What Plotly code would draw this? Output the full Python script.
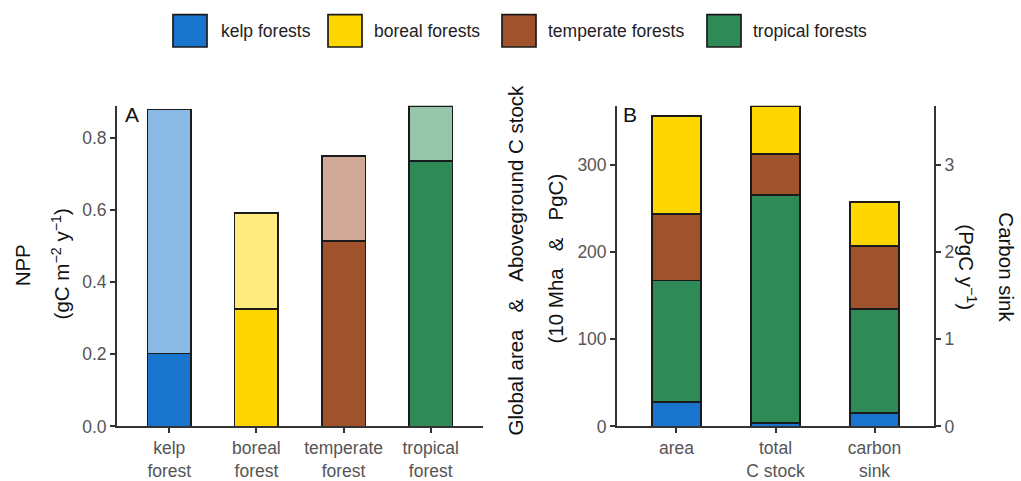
import plotly.graph_objects as go

# ---------------- data ----------------
npp_categories = ["kelp<br>forest", "boreal<br>forest", "temperate<br>forest", "tropical<br>forest"]
npp_lower = [0.202, 0.325, 0.515, 0.735]   # dark (lower) estimate
npp_upper = [0.879, 0.591, 0.750, 0.889]   # light (upper) estimate

b_categories = ["area", "total<br>C stock", "carbon<br>sink"]
forest_names = ["kelp forests", "boreal forests", "temperate forests", "tropical forests"]
# area (10 Mha) by forest type
area_kelp, area_tropical, area_temperate, area_boreal = 27.8, 139.8, 75.8, 112.6
# aboveground C stock (PgC)
stock_kelp, stock_tropical, stock_temperate, stock_boreal = 3.8, 261.4, 47.6, 54.7
# carbon sink (PgC / y)
sink_kelp, sink_tropical, sink_temperate, sink_boreal = 0.158, 1.19, 0.72, 0.506
sink_scale = 100  # secondary axis: 1 PgC/y == 100 on primary axis

npp_ticks = [0.0, 0.2, 0.4, 0.6, 0.8]
b_ticks = [0, 100, 200, 300]
sink_ticks = [0, 1, 2, 3]

# ---------------- styles ----------------
FONT = "Liberation Sans, Arial, sans-serif"
solid = {"kelp": "#1874CD", "boreal": "#FFD700", "temperate": "#A0522D", "tropical": "#2E8B57"}
light = {"kelp": "rgba(24,116,205,0.5)", "boreal": "rgba(255,215,0,0.5)",
         "temperate": "rgba(160,82,45,0.5)", "tropical": "rgba(46,139,87,0.5)"}
order_a = ["kelp", "boreal", "temperate", "tropical"]
OUTLINE = dict(color="#1a1a1a", width=1.7)
TICKCOL = "#555555"
W, H = 1021, 481

def px_x(p):
    return p / W

def px_y(p):
    return (H - p) / H

fig = go.Figure()

# Panel A: lower (dark) + remaining (light) stacked
fig.add_trace(go.Bar(
    x=npp_categories, y=npp_lower, width=0.5,
    marker=dict(color=[solid[k] for k in order_a], line=OUTLINE),
    xaxis="x", yaxis="y", showlegend=False, hoverinfo="skip"))
fig.add_trace(go.Bar(
    x=npp_categories, y=[u - l for u, l in zip(npp_upper, npp_lower)], width=0.5,
    marker=dict(color=[light[k] for k in order_a], line=OUTLINE),
    xaxis="x", yaxis="y", showlegend=False, hoverinfo="skip"))

# Panel B: stacked kelp, tropical, temperate, boreal
b_series = [
    ("kelp", [area_kelp, stock_kelp, sink_kelp * sink_scale]),
    ("tropical", [area_tropical, stock_tropical, sink_tropical * sink_scale]),
    ("temperate", [area_temperate, stock_temperate, sink_temperate * sink_scale]),
    ("boreal", [area_boreal, stock_boreal, sink_boreal * sink_scale]),
]
for key, vals in b_series:
    fig.add_trace(go.Bar(
        x=b_categories, y=vals, width=0.5,
        marker=dict(color=solid[key], line=OUTLINE),
        xaxis="x2", yaxis="y2", showlegend=False, hoverinfo="skip"))

# invisible trace for secondary (right) axis
fig.add_trace(go.Scatter(
    x=b_categories, y=[0, 0, 0], mode="markers", marker=dict(opacity=0),
    xaxis="x2", yaxis="y3", showlegend=False, hoverinfo="skip"))

y_dom = [px_y(435.5), px_y(108)]
axis_common = dict(showline=True, linecolor="#333333", linewidth=1.8,
                   ticks="outside", ticklen=5, tickwidth=1.5, tickcolor="#333333",
                   showgrid=False, zeroline=False,
                   tickfont=dict(family=FONT, size=17.5, color=TICKCOL))

fig.update_layout(
    width=W, height=H,
    margin=dict(l=0, r=0, t=0, b=0),
    paper_bgcolor="white", plot_bgcolor="white",
    barmode="stack",
    font=dict(family=FONT),
    xaxis=dict(domain=[px_x(117), px_x(483)], anchor="y", type="category",
               range=[-0.6, 3.6], **axis_common),
    yaxis=dict(domain=y_dom, anchor="x", range=[0, 0.889], tickvals=npp_ticks,
               ticktext=[f"{v:.1f}" for v in npp_ticks], **axis_common),
    xaxis2=dict(domain=[px_x(617), px_x(934)], anchor="y2", type="category",
                range=[-0.6, 2.6], **axis_common),
    yaxis2=dict(domain=y_dom, anchor="x2", range=[0, 368], tickvals=b_ticks, **axis_common),
    yaxis3=dict(overlaying="y2", anchor="x2", side="right", range=[0, 3.68],
                tickvals=sink_ticks, **axis_common),
)

# axis titles (separate lines to match spacing)
title_font = dict(family=FONT, size=20.5, color="#111111")
SP = "\u00a0\u00a0\u00a0"
ann = [
    dict(text="NPP", x=px_x(22), y=px_y(271), textangle=-90),
    dict(text="(gC m<sup>\u22122</sup> y<sup>\u22121</sup>)", x=px_x(61), y=px_y(270), textangle=-90),
    dict(text=f"Global area{SP}&{SP}Aboveground C stock", x=px_x(515), y=px_y(266), textangle=-90),
    dict(text=f"(10 Mha{SP}&{SP}PgC)", x=px_x(556), y=px_y(264), textangle=-90),
    dict(text="Carbon sink", x=px_x(1007), y=px_y(273), textangle=90),
    dict(text="(PgC y<sup>\u22121</sup>)", x=px_x(967), y=px_y(273), textangle=90),
]
for a in ann:
    fig.add_annotation(xref="paper", yref="paper", xanchor="center", yanchor="middle",
                       showarrow=False, font=title_font, **a)

# panel labels
for lab, xp in [("A", 132), ("B", 630)]:
    fig.add_annotation(text=lab, xref="paper", yref="paper", x=px_x(xp), y=px_y(117),
                       xanchor="center", yanchor="middle", showarrow=False,
                       font=dict(family=FONT, size=21, color="#111111"))

# legend (custom keys)
legend_keys = ["kelp", "boreal", "temperate", "tropical"]
box_left = [173, 328, 502, 707]
text_left = [219, 372, 546, 751]
for key, name, bl, tl in zip(legend_keys, forest_names, box_left, text_left):
    fig.add_shape(type="rect", xref="paper", yref="paper",
                  x0=px_x(bl), x1=px_x(bl + 34), y0=px_y(48), y1=px_y(15),
                  fillcolor=solid[key], line=dict(color="#1a1a1a", width=1.7))
    fig.add_annotation(text=name, xref="paper", yref="paper", x=px_x(tl), y=px_y(32),
                       xanchor="left", yanchor="middle", showarrow=False,
                       font=dict(family=FONT, size=17.5, color="#222222"))

fig.write_html("out.html")
